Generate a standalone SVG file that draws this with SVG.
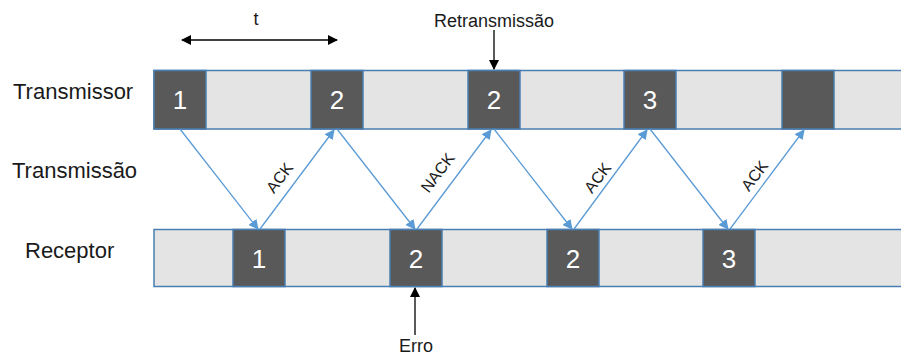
<svg xmlns="http://www.w3.org/2000/svg" width="901" height="356" viewBox="0 0 901 356">
  <defs>
    <marker id="blueHead" viewBox="0 0 10 10" refX="9" refY="5" markerWidth="10" markerHeight="10" markerUnits="userSpaceOnUse" orient="auto">
      <path d="M0,0 L10,5 L0,10 z" fill="#5b9bd5"/>
    </marker>
    <marker id="blackHead" viewBox="0 0 10 10" refX="9" refY="5" markerWidth="10" markerHeight="10" markerUnits="userSpaceOnUse" orient="auto-start-reverse">
      <path d="M0,0 L10,5 L0,10 z" fill="#000"/>
    </marker>
    <style>
      text { font-family: "Liberation Sans", Arial, sans-serif; fill: #1a1a1a; }
      .bar { fill: #e4e4e4; stroke: #4a7eb0; stroke-width: 1.5; }
      .blk { fill: #595959; stroke: #4a7eb0; stroke-width: 1.5; }
      .num { font-size: 26px; fill: #ffffff; text-anchor: middle; }
      .lbl { font-size: 22px; }
      .note { font-size: 18px; text-anchor: middle; }
      .ack { font-size: 16px; text-anchor: middle; }
      .msg { fill: none; stroke: #5b9bd5; stroke-width: 1.3; marker-end: url(#blueHead); }
      .pointer { fill: none; stroke: #000; stroke-width: 1.3; }
    </style>
  </defs>

  <rect width="901" height="356" fill="#ffffff"/>

  <!-- row labels -->
  <g id="labels">
    <text class="lbl" x="13" y="99">Transmissor</text>
    <text class="lbl" x="12" y="178">Transmissão</text>
    <text class="lbl" x="25" y="258">Receptor</text>
  </g>

  <!-- interval marker -->
  <g id="interval">
    <text class="note" x="256" y="25">t</text>
    <line class="pointer" x1="182" y1="40" x2="337" y2="40" marker-start="url(#blackHead)" marker-end="url(#blackHead)"/>
  </g>

  <!-- sender timeline -->
  <g id="transmissor">
    <rect class="bar" x="154" y="70.5" width="760" height="58.5"/>
    <g id="tx1"><rect class="blk" x="154" y="70.5" width="52" height="58.5"/><text class="num" x="180" y="109">1</text></g>
    <g id="tx2"><rect class="blk" x="311" y="70.5" width="52" height="58.5"/><text class="num" x="337" y="109">2</text></g>
    <g id="tx2r"><rect class="blk" x="468" y="70.5" width="52" height="58.5"/><text class="num" x="494" y="109">2</text></g>
    <g id="tx3"><rect class="blk" x="624" y="70.5" width="52" height="58.5"/><text class="num" x="650" y="109">3</text></g>
    <g id="tx4"><rect class="blk" x="782" y="70.5" width="52" height="58.5"/></g>
  </g>

  <!-- receiver timeline -->
  <g id="receptor">
    <rect class="bar" x="154" y="229.5" width="760" height="57"/>
    <g id="rx1"><rect class="blk" x="233" y="229.5" width="52" height="57"/><text class="num" x="259" y="268">1</text></g>
    <g id="rx2"><rect class="blk" x="390" y="229.5" width="52" height="57"/><text class="num" x="416" y="268">2</text></g>
    <g id="rx2r"><rect class="blk" x="547" y="229.5" width="52" height="57"/><text class="num" x="573" y="268">2</text></g>
    <g id="rx3"><rect class="blk" x="703" y="229.5" width="52" height="57"/><text class="num" x="729" y="268">3</text></g>
  </g>

  <!-- frames and acknowledgements -->
  <g id="connectors">
    <line class="msg" x1="180" y1="129" x2="258" y2="229"/>
    <line class="msg" x1="260" y1="229" x2="334" y2="130"/>
    <line class="msg" x1="337" y1="129" x2="415" y2="229"/>
    <line class="msg" x1="417" y1="229" x2="491" y2="130"/>
    <line class="msg" x1="494" y1="129" x2="572" y2="229"/>
    <line class="msg" x1="574" y1="229" x2="647" y2="130"/>
    <line class="msg" x1="650" y1="129" x2="728" y2="229"/>
    <line class="msg" x1="730" y1="229" x2="804" y2="130"/>
    <line class="pointer" x1="494" y1="30" x2="494" y2="69" marker-end="url(#blackHead)"/>
    <line class="pointer" x1="415" y1="335" x2="415" y2="288" marker-end="url(#blackHead)"/>
  </g>

  <!-- acknowledgement labels -->
  <g id="ack-labels">
    <text class="ack" transform="translate(284,181) rotate(-53)">ACK</text>
    <text class="ack" transform="translate(442,176) rotate(-53)">NACK</text>
    <text class="ack" transform="translate(602,181) rotate(-53)">ACK</text>
    <text class="ack" transform="translate(759,179) rotate(-53)">ACK</text>
  </g>

  <!-- annotations -->
  <g id="annotations">
    <text class="note" x="494" y="27">Retransmissão</text>
    <text class="note" x="416" y="352">Erro</text>
  </g>
</svg>
